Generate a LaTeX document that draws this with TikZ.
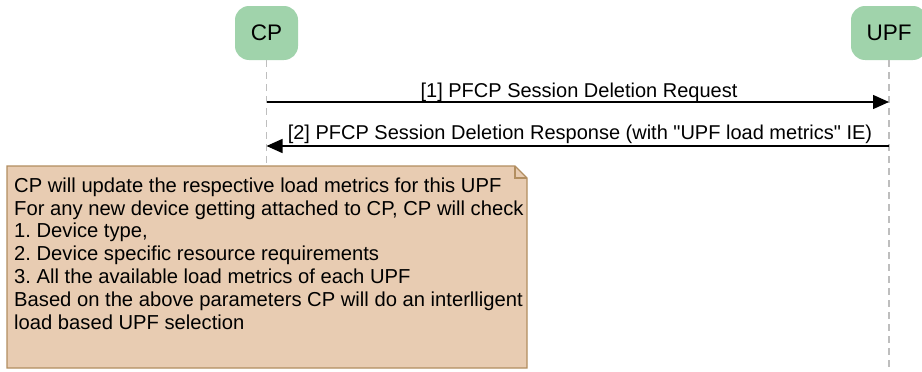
\documentclass[tikz,border=0pt]{standalone}
\usepackage{fontspec}
\setmainfont{Liberation Sans}
\usetikzlibrary{arrows.meta}
\frenchspacing
\definecolor{boxgreen}{RGB}{160,211,171}
\definecolor{notefill}{RGB}{232,204,178}
\definecolor{notedraw}{RGB}{178,142,96}
\definecolor{lifegray}{RGB}{190,190,190}
\tikzset{
  actor/.style={rounded corners=14pt, fill=boxgreen, draw=none, minimum height=54pt, inner sep=0pt, font=\fontsize{22.5}{26}\selectfont},
  lifeline/.style={draw=lifegray, line width=1.2pt, dash pattern=on 7pt off 5pt},
  msg/.style={line width=1.4pt, -{Triangle[length=16pt,width=14pt]}},
  msglabel/.style={font=\fontsize{20}{24}\selectfont, inner sep=0pt},
  notetext/.style={font=\fontsize{20.2}{22.8}\selectfont, align=left, inner sep=0pt, anchor=north west}
}
\begin{document}
\begin{tikzpicture}[x=1pt,y=-1pt]
\useasboundingbox (0,0) rectangle (922,372);
% actors
\node[actor, minimum width=63pt] (cp) at (266.5,33) {CP};
\node[actor, minimum width=76pt] (upf) at (889,33) {UPF};
% lifelines
\coordinate (cpend) at (266.5,372);
\coordinate (upfend) at (889,372);
\draw[lifeline] (cp.south) -- (cpend);
\draw[lifeline] (upf.south) -- (upfend);
% message points
\coordinate (cp1) at (266.5,102);
\coordinate (upf1) at (889,102);
\coordinate (cp2) at (266.5,146);
\coordinate (upf2) at (889,146);
\draw[msg] (cp1) -- (upf1);
\draw[msg] (upf2) -- (cp2);
\node[msglabel] (l1) at (579,92) {[1] PFCP Session Deletion Request};
\node[msglabel] (l2) at (580,134) {[2] PFCP Session Deletion Response (with \textquotedbl UPF load metrics\textquotedbl{} IE)};
% note
\draw[fill=notefill, draw=notedraw, line width=1.2pt] (7,166) -- (515,166) -- (527,178) -- (527,368) -- (7,368) -- cycle;
\draw[draw=notedraw, line width=1.2pt] (515,166) -- (515,178) -- (527,178);
\node[notetext] (note) at (14,177.5) {CP will update the respective load metrics for this UPF\\
For any new device getting attached to CP, CP will check\\
1. Device type,\\
2. Device specific resource requirements\\
3. All the available load metrics of each UPF\\
Based on the above parameters CP will do an interlligent\\
load based UPF selection};
\end{tikzpicture}
\end{document}
